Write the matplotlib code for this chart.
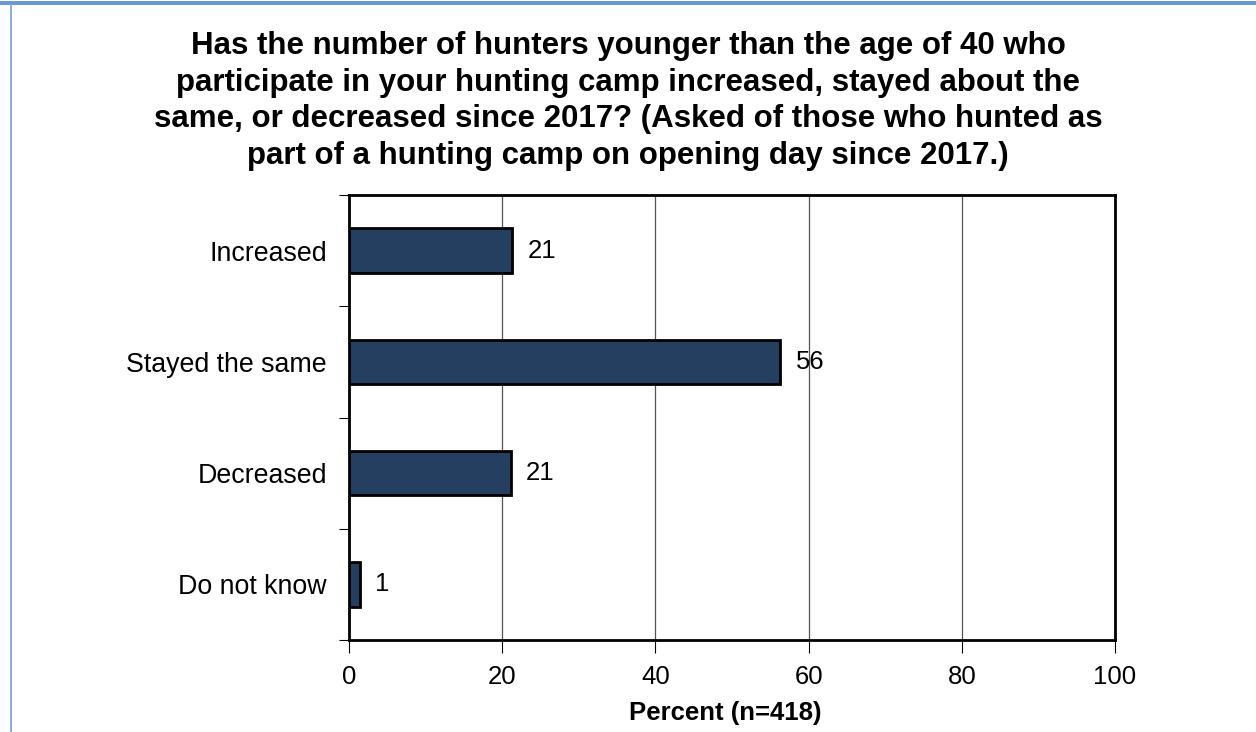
import numpy as np
import matplotlib.pyplot as plt
from matplotlib.lines import Line2D

plt.rcParams['font.family'] = ['Liberation Sans', 'DejaVu Sans']

categories = ['Increased', 'Stayed the same', 'Decreased', 'Do not know']
values = [21.3, 56.3, 21.1, 1.4]
labels = ['21', '56', '21', '1']
xticks = [0, 20, 40, 60, 80, 100]

title = ('Has the number of hunters younger than the age of 40 who\n'
         'participate in your hunting camp increased, stayed about the\n'
         'same, or decreased since 2017? (Asked of those who hunted as\n'
         'part of a hunting camp on opening day since 2017.)')

fig = plt.figure(figsize=(12.56, 7.32), dpi=100)
ax = fig.add_axes([349 / 1256, 1 - 640 / 732, (1115 - 349) / 1256, (640 - 195) / 732])

y = np.arange(len(categories))
ax.barh(y, values, height=0.4, color='#243f60', edgecolor='black', linewidth=2, zorder=3)
for yi, v, lab in zip(y, values, labels):
    ax.text(v + 2.0, yi, lab, va='center', ha='left', fontsize=18.5, zorder=4)

ax.set_xlim(0, 100)
ax.set_ylim(len(categories) - 0.5, -0.5)
ax.set_xticks(xticks)
ax.set_xticklabels([str(t) for t in xticks], fontsize=18.5)
ax.tick_params(axis='x', length=9, width=0.8, pad=9)
ax.set_yticks(y)
ax.set_yticklabels(categories, fontsize=19.3)
ax.tick_params(axis='y', which='major', length=0, pad=16)
ax.set_yticks(np.arange(-0.5, len(categories), 1), minor=True)
ax.tick_params(axis='y', which='minor', length=7, width=0.8)
ax.xaxis.grid(True, color='#555555', linewidth=0.9, zorder=0)
for s in ax.spines.values():
    s.set_linewidth(2)
ax.set_xlabel('Percent (n=418)', fontsize=18.5, fontweight='bold')
ax.xaxis.set_label_coords((725 - 349) / 766, (640 - 713) / 445)
ax.xaxis.label.set_verticalalignment('center')

fig.text(0.5, 1 - 101 / 732, title, ha='center', va='center', fontsize=22.5,
         fontweight='bold', linespacing=1.3)

# frame lines at the picture edges
fig.add_artist(Line2D([0, 1], [1 - 2.3 / 732, 1 - 2.3 / 732], color='#4a86c8', linewidth=1.2))
fig.add_artist(Line2D([0, 1], [1 - 4.3 / 732, 1 - 4.3 / 732], color='#4a86c8', linewidth=1.2))
fig.add_artist(Line2D([11 / 1256, 11 / 1256], [0, 1 - 5 / 732], color='#8fb0dc', linewidth=1.5))

fig.savefig('out.png', dpi=100)
